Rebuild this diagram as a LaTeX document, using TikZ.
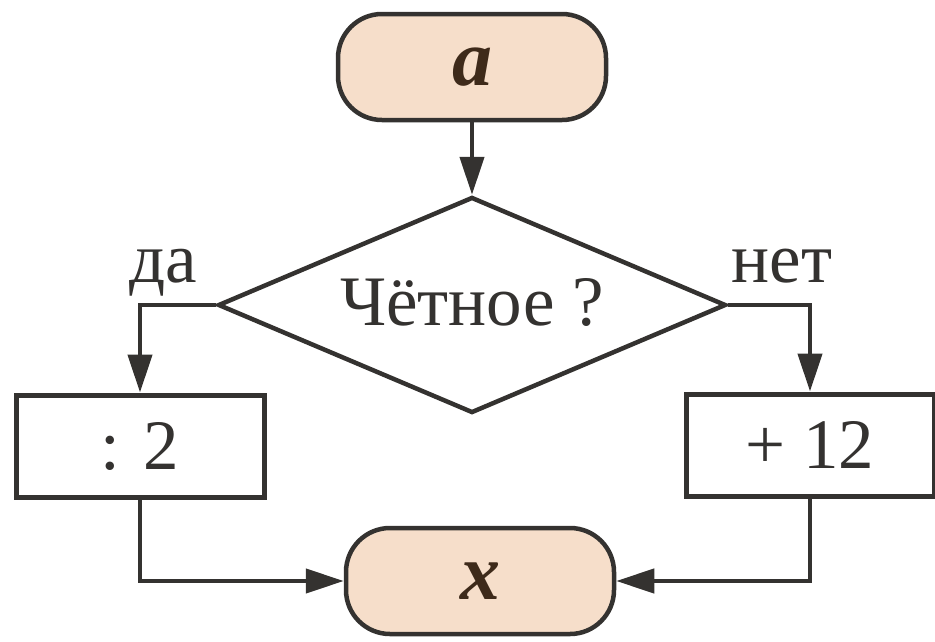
\documentclass[tikz,border=0pt]{standalone}
\usepackage{fontspec}
\setmainfont{Liberation Serif}
\usetikzlibrary{shapes.geometric,arrows.meta}
\definecolor{termfill}{RGB}{246,222,202}
\definecolor{ink}{RGB}{52,50,48}
\definecolor{termink}{RGB}{62,42,26}
\begin{document}
\begin{tikzpicture}[x=1pt,y=-1pt,
	font=\fontsize{71pt}{80pt}\selectfont,
	term/.style={draw=ink, line width=4.5pt, fill=termfill, rounded corners=44pt, minimum width=268pt, minimum height=106pt, inner sep=0pt, text=termink, font=\fontsize{80pt}{90pt}\selectfont\bfseries\itshape},
	proc/.style={draw=ink, line width=5pt, fill=white, minimum width=248pt, minimum height=102pt, inner sep=0pt, text=ink},
	cond/.style={draw=ink, line width=4.5pt, diamond, aspect=2.35, minimum width=508pt, minimum height=216pt, inner sep=0pt, text=ink, text height=50pt, text depth=10pt},
	flow/.style={draw=ink, line width=4.5pt, -{Triangle[length=38pt,width=24pt]}},
	tag/.style={anchor=base, text=ink, inner sep=0pt}]
	\useasboundingbox (0,0) rectangle (935,641);
	\node[term] (start) at (472,67) {a};
	\node[cond] (test) at (472,305) {Чётное ?};
	\node[proc] (half) at (140,446) {: 2};
	\node[proc] (plus) at (810,445) {+ 12};
	\node[term] (result) at (480,581) {x};
	\node[tag] (yes) at (163,282) {да};
	\node[tag] (no) at (782,282) {нет};
	\draw[flow] (start) -- (test);
	\draw[flow] (test.west) -| (half.north);
	\draw[flow] (test.east) -| (plus.north);
	\draw[flow] (half.south) |- (result.west);
	\draw[flow] (plus.south) |- (result.east);
\end{tikzpicture}
\end{document}
